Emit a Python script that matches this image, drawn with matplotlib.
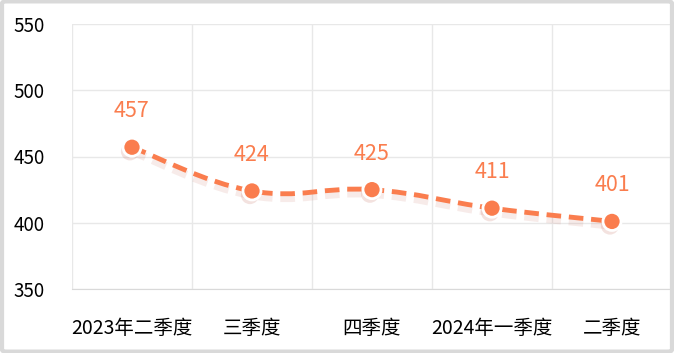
import matplotlib.pyplot as plt
import matplotlib.patheffects as pe
from matplotlib.patches import FancyBboxPatch, PathPatch
from matplotlib.path import Path
import numpy as np

plt.rcParams['font.family'] = ['Noto Sans CJK SC', 'DejaVu Sans']

quarters = ['2023年二季度', '三季度', '四季度', '2024年一季度', '二季度']
values = [457, 424, 425, 411, 401]
yticks = [350, 400, 450, 500, 550]

orange = '#fa7d4e'

fig = plt.figure(figsize=(6.74, 3.53), dpi=100)
ax = fig.add_axes([72 / 674, 64 / 353, 600 / 674, 265 / 353])

x = np.arange(len(values))

# smooth-ish curve through the points with cubic bezier segments
verts = [(x[0], values[0])]
codes = [Path.MOVETO]
t = 0.2
for i in range(len(values) - 1):
    p0 = (x[max(i - 1, 0)], values[max(i - 1, 0)])
    p1 = (x[i], values[i])
    p2 = (x[i + 1], values[i + 1])
    p3 = (x[min(i + 2, len(values) - 1)], values[min(i + 2, len(values) - 1)])
    c1 = (p1[0] + (p2[0] - p0[0]) * t, p1[1] + (p2[1] - p0[1]) * t)
    c2 = (p2[0] - (p3[0] - p1[0]) * t, p2[1] - (p3[1] - p1[1]) * t)
    verts += [c1, c2, p2]
    codes += [Path.CURVE4] * 3
curve = PathPatch(Path(verts, codes), facecolor='none', edgecolor=orange,
                  lw=3.5, linestyle=(0, (3, 1.6)), zorder=3,
                  path_effects=[pe.SimpleLineShadow(offset=(0, -3), shadow_color='#c06050', alpha=0.12, linewidth=6),
                                pe.Normal()])
ax.add_patch(curve)

ax.plot(x, values, linestyle='none', marker='o', markersize=13,
        markerfacecolor=orange, markeredgecolor='white', markeredgewidth=2, zorder=4,
        path_effects=[pe.SimplePatchShadow(offset=(-1.5, -3), shadow_rgbFace='#c06050', alpha=0.18),
                      pe.Normal()])

for xi, v in zip(x, values):
    ax.annotate(str(v), (xi, v), xytext=(0, 26), textcoords='offset points',
                ha='center', va='center', color=orange, fontsize=15.5)

ax.set_xlim(-0.5, len(values) - 0.5)
ax.set_ylim(350, 550)
ax.set_yticks(yticks)
ax.set_xticks(x)
ax.set_xticklabels(quarters)
ax.set_xticks(np.arange(-0.5, len(values)), minor=True)
ax.tick_params(axis='both', which='both', length=0)
ax.tick_params(axis='y', labelsize=13.5, pad=19.5)
ax.tick_params(axis='x', labelsize=14, pad=21)
ax.grid(True, axis='y', color='#e8e8e8', lw=1)
ax.grid(True, axis='x', which='minor', color='#e8e8e8', lw=1)
ax.set_axisbelow(True)
for s in ['top', 'right', 'left']:
    ax.spines[s].set_visible(False)
ax.spines['bottom'].set_color('#d9d9d9')

border = FancyBboxPatch((0.003, 0.004), 0.994, 0.992, boxstyle='round,pad=0,rounding_size=0.006',
                        transform=fig.transFigure, facecolor='none', edgecolor='#d9d9d9', lw=3)
fig.patches.append(border)

fig.savefig('out.png', dpi=100)
